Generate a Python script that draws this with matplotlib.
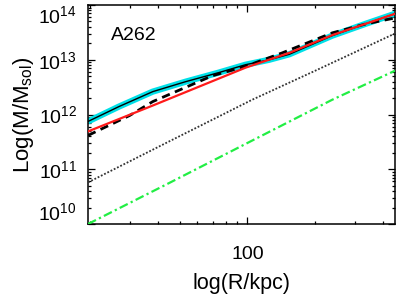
import matplotlib
matplotlib.use('Agg')
import matplotlib.pyplot as plt
from matplotlib.ticker import LogLocator, NullFormatter, FixedLocator
import numpy as np

plt.rcParams['font.family'] = ['Liberation Sans', 'DejaVu Sans']
plt.rcParams['mathtext.fontset'] = 'custom'
plt.rcParams['mathtext.rm'] = 'Liberation Sans'
plt.rcParams['mathtext.it'] = 'Liberation Sans:italic'
plt.rcParams['mathtext.default'] = 'regular'

# observed profile (cyan band + black line)
r_obs = [19.6, 26.9, 38.0, 53.2, 74.4, 98.0, 125, 153.4, 237.8, 336.5, 452]
logm_obs = [11.873, 12.145, 12.418, 12.60, 12.764, 12.909, 13.0, 13.10, 13.44, 13.66, 13.84]

# red model
r_red = [19.6, 38.0, 98.0, 153.4, 237.8, 452]
logm_red = [11.691, 12.164, 12.855, 13.127, 13.45, 13.84]

# dashed black model
r_dash = [19.6, 30, 38.0, 70, 98.0, 143, 238, 336, 452]
logm_dash = [11.618, 11.982, 12.236, 12.709, 12.88, 13.127, 13.491, 13.655, 13.764]

# dotted component
r_dot = [19.6, 45, 105, 200, 452]
logm_dot = [10.76, 11.51, 12.27, 12.80, 13.48]

# green dash-dot component
r_green = [19.6, 45, 100, 238, 452]
logm_green = [10.0, 10.75, 11.48, 12.27, 12.80]

fig = plt.figure(figsize=(3.99, 3.02), dpi=100)
ax = fig.add_axes([0.2206, 0.2583, 0.7694, 0.7251])

ax.plot(r_obs, 10**np.array(logm_obs), color='#00e0e8', lw=4.5, solid_capstyle='butt', zorder=2)
ax.plot(r_obs, 10**np.array(logm_obs), color='black', lw=1.0, zorder=3)
ax.plot(r_dash, 10**np.array(logm_dash), color='black', lw=2.0, ls=(0, (3, 2)), zorder=4)
ax.plot(r_red, 10**np.array(logm_red), color='#ff1a1a', lw=1.6, zorder=5)
ax.plot(r_dot, 10**np.array(logm_dot), color='#333333', lw=1.3, ls=(0, (1, 1)), zorder=3)
ax.plot(r_green, 10**np.array(logm_green), color='#22ee44', lw=1.6, ls=(0, (4, 1.5, 1, 1.5)), zorder=3)

ax.set_xscale('log')
ax.set_yscale('log')
ax.set_xlim(19.6, 452)
ax.set_ylim(1e10, 1e14)

ax.xaxis.set_major_locator(FixedLocator([100]))
ax.set_xticklabels(['100'])
ax.xaxis.set_minor_locator(LogLocator(base=10, subs=np.arange(2, 10)))
ax.xaxis.set_minor_formatter(NullFormatter())

yt = [1e10, 1e11, 1e12, 1e13, 1e14]
ax.yaxis.set_major_locator(FixedLocator(yt))
ax.set_yticklabels(['$10^{10}$', '$10^{11}$', '$10^{12}$', '$10^{13}$', '$10^{14}$'])
ax.yaxis.set_minor_locator(LogLocator(base=10, subs=np.arange(2, 10)))
ax.yaxis.set_minor_formatter(NullFormatter())
labs = ax.get_yticklabels()
labs[0].set_va('bottom')
labs[-1].set_va('top')

ax.tick_params(which='both', direction='in', top=True, right=True, width=0.9, labelsize=14)
ax.tick_params(which='major', length=5)
ax.tick_params(which='minor', length=2.5)
ax.tick_params(axis='x', pad=16)
ax.tick_params(axis='y', pad=8)
for s in ax.spines.values():
    s.set_linewidth(1.1)

ax.set_xlabel('log(R/kpc)', fontsize=15.5, labelpad=7)
ax.set_ylabel('Log(M/M$_{sol}$)', fontsize=16, labelpad=2)

ax.text(0.075, 0.862, 'A262', transform=ax.transAxes, fontsize=14, ha='left', va='center')

fig.savefig('out.png', dpi=100)
